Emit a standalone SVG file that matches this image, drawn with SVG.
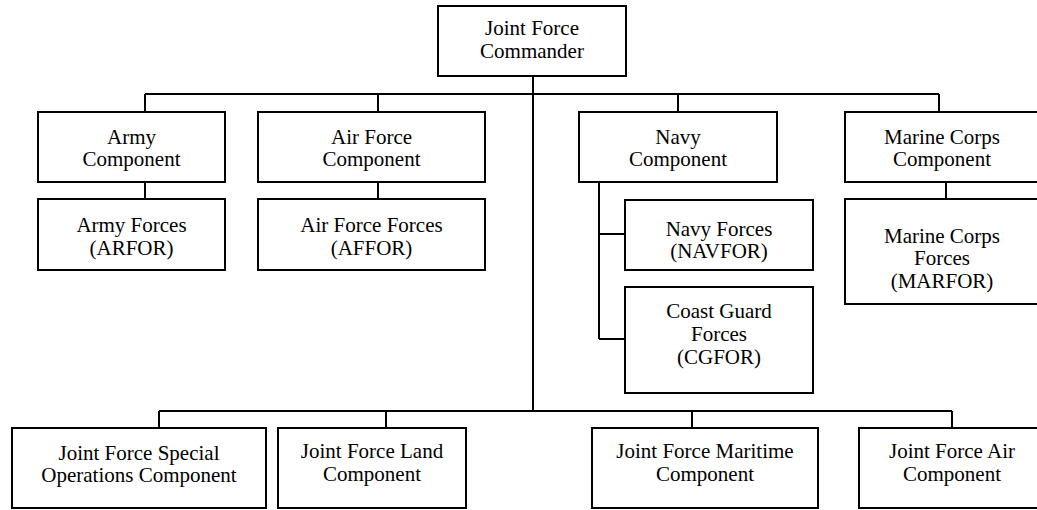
<svg xmlns="http://www.w3.org/2000/svg" width="1037" height="510" viewBox="0 0 1037 510" font-family="'Liberation Serif', 'Times New Roman', 'DejaVu Serif', serif">
<style>
rect{fill:#fff;stroke:#000;stroke-width:2}
.c line{stroke:#000;stroke-width:2}
text{font-family:'Liberation Serif','DejaVu Serif',serif;font-size:21px;fill:#000;text-anchor:middle}
</style>
<rect x="0" y="0" width="1037" height="510" style="stroke:none"/>
<g class="c" id="connectors">
<line x1="145" y1="94" x2="939" y2="94"/>
<line x1="533" y1="76" x2="533" y2="411"/>
<line x1="145" y1="94" x2="145" y2="112"/>
<line x1="378" y1="94" x2="378" y2="112"/>
<line x1="678" y1="94" x2="678" y2="112"/>
<line x1="939" y1="94" x2="939" y2="112"/>
<line x1="145" y1="182" x2="145" y2="199"/>
<line x1="378" y1="182" x2="378" y2="199"/>
<line x1="946" y1="182" x2="946" y2="199"/>
<line x1="599" y1="182" x2="599" y2="339"/>
<line x1="599" y1="234" x2="625" y2="234"/>
<line x1="599" y1="339" x2="625" y2="339"/>
<line x1="159" y1="411" x2="952" y2="411"/>
<line x1="159" y1="411" x2="159" y2="428"/>
<line x1="386" y1="411" x2="386" y2="428"/>
<line x1="692" y1="411" x2="692" y2="428"/>
<line x1="952" y1="411" x2="952" y2="428"/>
</g>
<g id="jfc"><rect x="438" y="6" width="188" height="70"/><text x="532" y="35">Joint Force</text><text x="532" y="58">Commander</text></g>
<g id="army"><rect x="38" y="112" width="187" height="70"/><text x="131.5" y="144">Army</text><text x="131.5" y="166">Component</text></g>
<g id="arfor"><rect x="38" y="199" width="187" height="71"/><text x="131.5" y="232">Army Forces</text><text x="131.5" y="255">(ARFOR)</text></g>
<g id="airforce"><rect x="258" y="112" width="227" height="70"/><text x="371.5" y="144">Air Force</text><text x="371.5" y="166">Component</text></g>
<g id="affor"><rect x="258" y="199" width="227" height="71"/><text x="371.5" y="232">Air Force Forces</text><text x="371.5" y="255">(AFFOR)</text></g>
<g id="navy"><rect x="579" y="112" width="198" height="70"/><text x="678" y="144">Navy</text><text x="678" y="166">Component</text></g>
<g id="navfor"><rect x="625" y="200" width="188" height="70"/><text x="719" y="236">Navy Forces</text><text x="719" y="258">(NAVFOR)</text></g>
<g id="cgfor"><rect x="625" y="287" width="188" height="106"/><text x="719" y="318">Coast Guard</text><text x="719" y="341">Forces</text><text x="719" y="364">(CGFOR)</text></g>
<g id="marine"><rect x="845" y="112" width="195" height="70"/><text x="942" y="144">Marine Corps</text><text x="942" y="166">Component</text></g>
<g id="marfor"><rect x="845" y="199" width="195" height="105"/><text x="942" y="243">Marine Corps</text><text x="942" y="265">Forces</text><text x="942" y="288">(MARFOR)</text></g>
<g id="jfsoc"><rect x="12" y="428" width="254" height="80"/><text x="139" y="460">Joint Force Special</text><text x="139" y="482">Operations Component</text></g>
<g id="jflcc"><rect x="278" y="428" width="188" height="80"/><text x="372" y="458">Joint Force Land</text><text x="372" y="481">Component</text></g>
<g id="jfmcc"><rect x="592" y="428" width="226" height="80"/><text x="705" y="458">Joint Force Maritime</text><text x="705" y="481">Component</text></g>
<g id="jfacc"><rect x="859" y="428" width="186" height="80"/><text x="952" y="458">Joint Force Air</text><text x="952" y="481">Component</text></g>
</svg>
